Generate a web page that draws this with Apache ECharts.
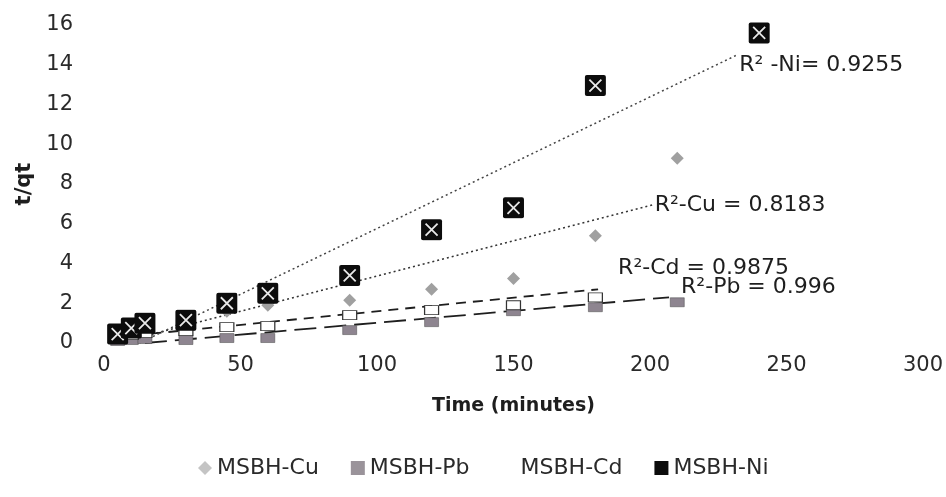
<!DOCTYPE html>
<html>
<head>
<meta charset="utf-8">
<script src="https://cdn.jsdelivr.net/npm/echarts@6/dist/echarts.min.js"></script>
<style>
html,body{margin:0;padding:0;background:#fff;}
#chart{width:946px;height:497px;}
</style>
</head>
<body>
<div id="chart"></div>
<script>
// time in minutes
var timeData = [5, 10, 15, 30, 45, 60, 90, 120, 150, 180, 210, 240];
// t/qt values (null = no point)
var cuData = [0.4, 0.5, 0.6, 1.0, 1.6, 1.9, 2.15, 2.7, 3.25, 5.4, 9.3, null];
var pbData = [0.1, 0.15, 0.2, 0.15, 0.25, 0.25, 0.65, 1.05, 1.6, 1.8, 2.05, null];
var cdData = [0.3, 0.4, 0.5, 0.6, 0.8, 0.85, 1.4, 1.65, 1.9, 2.3, null, null];
var niData = [0.45, 0.75, 1.0, 1.15, 2.0, 2.5, 3.4, 5.7, 6.8, 12.95, null, 15.6];

// trend line end points as drawn in the picture
var cuFit = [[5, 0], [201, 6.95]];
var pbFit = [[15, 0], [207, 2.3]];
var cdFit = [[5, 0.3], [181, 2.7]];
var niFit = [[13, 0], [232, 14.5]];

var seriesNames = ['MSBH-Cu', 'MSBH-Pb', 'MSBH-Cd', 'MSBH-Ni'];
var r2Labels = ['R\u00b2-Cu = 0.8183', 'R\u00b2-Pb = 0.996', 'R\u00b2-Cd = 0.9875', 'R\u00b2 -Ni= 0.9255'];

function toPoints(vals){
    var out = [];
    for(var i=0;i<timeData.length;i++){
        if(vals[i]!=null){
            out.push([timeData[i], vals[i]]);
        }
    }
    return out;
}

function fitLine(name, pts, dash, width, color, label, offset){
    return {
        name: name,
        type: 'line',
        data: pts,
        symbol: 'none',
        silent: true,
        z: 1,
        lineStyle: {color: color, width: width, type: dash},
        endLabel: {
            show: true,
            distance: 2,
            offset: offset,
            formatter: function(){ return label; },
            fontFamily: 'DejaVu Sans',
            fontSize: 22,
            color: '#1e1e1e'
        }
    };
}

var niSvg = "<svg xmlns='http://www.w3.org/2000/svg' width='22' height='22'>" +
    "<rect x='0.5' y='0.5' width='21' height='21' rx='2' fill='#0c0c0c'/>" +
    "<path d='M5 5L17 17M17 5L5 17' stroke='#e8e8e8' stroke-width='1.8'/></svg>";
var niSymbol = 'image://data:image/svg+xml;charset=utf-8,' + encodeURIComponent(niSvg);

var myChart = echarts.init(document.getElementById('chart'));
var option = {
    backgroundColor: '#fff',
    animation: false,
    grid: {left: 104, right: 23, top: 25, bottom: 154},
    legend: {
        left: 193,
        top: 452,
        itemGap: 32,
        itemWidth: 14,
        itemHeight: 14,
        itemStyle: {borderWidth: 0},
        textStyle: {fontFamily: 'DejaVu Sans', fontSize: 22, color: '#2a2a2a'},
        data: [
            {name: 'MSBH-Cu', icon: 'diamond', itemStyle: {color: '#c4c4c4', borderWidth: 0}},
            {name: 'MSBH-Pb', icon: 'rect', itemStyle: {color: '#9a939a', borderWidth: 0}},
            {name: 'MSBH-Cd', icon: 'rect', itemStyle: {color: '#fff', borderWidth: 0}},
            {name: 'MSBH-Ni', icon: 'rect', itemStyle: {color: '#0c0c0c', borderWidth: 0}}
        ]
    },
    xAxis: {
        type: 'value',
        min: 0,
        max: 300,
        interval: 50,
        name: 'Time (minutes)',
        nameLocation: 'middle',
        nameGap: 54,
        nameTextStyle: {fontFamily: 'DejaVu Sans', fontSize: 19, fontWeight: 'bold', color: '#1e1e1e'},
        axisLine: {show: false},
        axisTick: {show: false},
        splitLine: {show: false},
        axisLabel: {fontFamily: 'DejaVu Sans', fontSize: 21, color: '#2a2a2a', margin: 12}
    },
    yAxis: {
        type: 'value',
        min: 0,
        max: 16,
        interval: 2,
        name: 't/qt',
        nameLocation: 'middle',
        nameGap: 69,
        nameTextStyle: {fontFamily: 'DejaVu Sans', fontSize: 21, fontWeight: 'bold', color: '#1e1e1e'},
        axisLine: {show: false},
        axisTick: {show: false},
        splitLine: {show: false},
        axisLabel: {fontFamily: 'DejaVu Sans', fontSize: 21, color: '#2a2a2a', margin: 31}
    },
    series: [
        fitLine('fit-Cu', cuFit, [2, 3], 1.5, '#333', r2Labels[0], [0, 0]),
        fitLine('fit-Pb', pbFit, [22, 8], 1.8, '#1e1e1e', r2Labels[1], [10, -10]),
        fitLine('fit-Cd', cdFit, [10, 7], 1.8, '#1e1e1e', r2Labels[2], [18, -21]),
        fitLine('fit-Ni', niFit, [2, 3], 1.5, '#444', r2Labels[3], [0, 10]),
        {
            name: seriesNames[0], type: 'scatter', data: toPoints(cuData),
            symbol: 'diamond', symbolSize: 13, z: 3,
            itemStyle: {color: '#a0a0a0', opacity: 1}
        },
        {
            name: seriesNames[1], type: 'scatter', data: toPoints(pbData),
            symbol: 'rect', symbolSize: [14, 9], z: 3,
            itemStyle: {color: '#8e8590', borderColor: '#4a4a4a', borderWidth: 0.5, opacity: 1}
        },
        {
            name: seriesNames[2], type: 'scatter', data: toPoints(cdData),
            symbol: 'rect', symbolSize: [14, 9], z: 3,
            itemStyle: {color: '#fff', borderColor: '#333', borderWidth: 1, opacity: 1}
        },
        {
            name: seriesNames[3], type: 'scatter', data: toPoints(niData),
            symbol: niSymbol, symbolSize: 22, z: 4,
            itemStyle: {opacity: 1}
        }
    ]
};
myChart.setOption(option);
</script>
</body>
</html>
